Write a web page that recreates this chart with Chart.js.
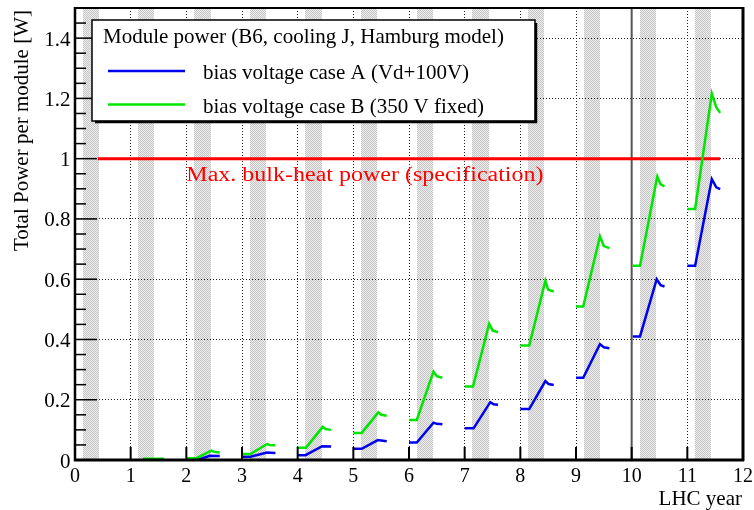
<!DOCTYPE html>
<html>
<head>
  <title>Module power vs LHC year</title>
  <script src="https://cdn.jsdelivr.net/npm/chart.js"></script>
  <style>
    body { margin: 0; background: #fff; }
    canvas { display: block; }
  </style>
</head>
<body>
  <canvas id="powerChart" width="754" height="510"></canvas>
  <script>
    // case A: bias voltage Vd+100V (null = gap between running years)
    const caseAYear  = [2.2, 2.42, 2.6, null,
                        3.0, 3.15, 3.45, 3.6, null,
                        4.0, 4.14, 4.44, 4.6, null,
                        5.0, 5.15, 5.44, 5.6, null,
                        6.0, 6.14, 6.44, 6.5, 6.6, null,
                        7.0, 7.16, 7.46, 7.52, 7.6, null,
                        8.0, 8.16, 8.45, 8.51, 8.6, null,
                        9.0, 9.13, 9.43, 9.5, 9.6, null,
                        10.02, 10.15, 10.45, 10.52, 10.59, null,
                        11.0, 11.14, 11.44, 11.52, 11.59];
    const caseAPower = [0.0, 0.014, 0.013, null,
                        0.011, 0.011, 0.025, 0.023, null,
                        0.016, 0.016, 0.046, 0.045, null,
                        0.037, 0.037, 0.066, 0.062, null,
                        0.058, 0.058, 0.124, 0.12, 0.119, null,
                        0.105, 0.105, 0.192, 0.185, 0.183, null,
                        0.169, 0.169, 0.262, 0.252, 0.249, null,
                        0.273, 0.273, 0.384, 0.374, 0.371, null,
                        0.41, 0.41, 0.6, 0.58, 0.576, null,
                        0.645, 0.645, 0.932, 0.905, 0.899];

    // case B: bias voltage 350 V fixed
    const caseBYear  = [1.22, 1.6, null,
                        2.0, 2.18, 2.45, 2.5, 2.6, null,
                        3.0, 3.15, 3.45, 3.5, 3.6, null,
                        4.0, 4.15, 4.45, 4.5, 4.6, null,
                        5.0, 5.15, 5.45, 5.5, 5.6, null,
                        6.0, 6.14, 6.44, 6.5, 6.6, null,
                        7.0, 7.15, 7.44, 7.5, 7.6, null,
                        8.0, 8.16, 8.45, 8.5, 8.6, null,
                        9.0, 9.13, 9.43, 9.5, 9.6, null,
                        10.02, 10.15, 10.46, 10.52, 10.59, null,
                        11.0, 11.14, 11.44, 11.52, 11.59];
    const caseBPower = [0.004, 0.004, null,
                        0.006, 0.006, 0.031, 0.027, 0.025, null,
                        0.02, 0.02, 0.053, 0.05, 0.049, null,
                        0.041, 0.041, 0.11, 0.103, 0.1, null,
                        0.09, 0.09, 0.158, 0.15, 0.147, null,
                        0.133, 0.133, 0.293, 0.278, 0.273, null,
                        0.244, 0.244, 0.452, 0.43, 0.424, null,
                        0.38, 0.38, 0.595, 0.565, 0.559, null,
                        0.509, 0.509, 0.742, 0.71, 0.703, null,
                        0.645, 0.645, 0.941, 0.915, 0.908, null,
                        0.833, 0.833, 1.216, 1.17, 1.152];

    // specification limit
    const specYear  = [0.41, 11.59];
    const specPower = [1.0, 1.0];
    const specText  = 'Max. bulk-heat power (specification)';

    // running periods (stippled bands)
    const runStart = [0.14, 1.13, 2.13, 3.15, 4.14, 5.14, 6.14, 7.14, 8.14, 9.14, 10.15, 11.14];
    const runEnd   = [0.43, 1.42, 2.44, 3.44, 4.43, 5.43, 6.43, 7.43, 8.43, 9.43, 10.43, 11.42];

    const xTickValues = [0, 1, 2, 3, 4, 5, 6, 7, 8, 9, 10, 11, 12];
    const xTickLabels = ['0', '1', '2', '3', '4', '5', '6', '7', '8', '9', '10', '11', '12'];
    const yTickValues = [0, 0.2, 0.4, 0.6, 0.8, 1.0, 1.2, 1.4];
    const yTickLabels = ['0', '0.2', '0.4', '0.6', '0.8', '1', '1.2', '1.4'];

    const legendTitle = 'Module power (B6, cooling J, Hamburg model)';
    const legendLabels = ['bias voltage case A (Vd+100V)', 'bias voltage case B (350 V fixed)'];

    const BLUE = '#0000ee';
    const GREEN = '#00e600';
    const RED = '#ff0000';
    const SERIF = '"Liberation Serif", "DejaVu Serif", serif';

    function toPoints(xs, ys) {
      return xs.map((x, i) => ({ x: x, y: ys[i] }));
    }

    function text(ctx, str, x, y, size, align, sx, color) {
      ctx.save();
      ctx.translate(x, y);
      ctx.scale(sx || 1, 1);
      ctx.font = size + 'px ' + SERIF;
      ctx.textAlign = align;
      ctx.textBaseline = 'alphabetic';
      ctx.fillStyle = color || '#000';
      ctx.fillText(str, 0, 0);
      ctx.restore();
    }

    function line(ctx, x1, y1, x2, y2, w, color) {
      ctx.beginPath();
      ctx.lineWidth = w;
      ctx.strokeStyle = color;
      ctx.moveTo(x1, y1);
      ctx.lineTo(x2, y2);
      ctx.stroke();
    }

    // fine checker stipple for the running periods
    function makeStipple(ctx) {
      const pc = document.createElement('canvas');
      pc.width = 2;
      pc.height = 2;
      const p = pc.getContext('2d');
      p.fillStyle = '#eeeeee';
      p.fillRect(0, 0, 2, 2);
      p.fillStyle = '#c4c4c4';
      p.fillRect(0, 0, 1, 1);
      p.fillRect(1, 1, 1, 1);
      return ctx.createPattern(pc, 'repeat');
    }

    const rootStyle = {
      id: 'rootStyle',
      beforeDraw(chart) {
        const ctx = chart.ctx;
        const xs = chart.scales.x, ys = chart.scales.y;
        ctx.save();
        ctx.fillStyle = '#fff';
        ctx.fillRect(0, 0, chart.width, chart.height);
        ctx.fillStyle = makeStipple(ctx);
        const top = Math.round(ys.getPixelForValue(1.5)), bottom = Math.round(ys.getPixelForValue(0));
        for (let i = 0; i < runStart.length; i++) {
          const a = Math.round(xs.getPixelForValue(runStart[i]));
          const b = Math.round(xs.getPixelForValue(runEnd[i]));
          ctx.fillRect(a, top, b - a, bottom - top);
        }
        ctx.restore();
      },
      beforeDatasetsDraw(chart) {
        const ctx = chart.ctx;
        const xs = chart.scales.x, ys = chart.scales.y;
        ctx.save();
        const x10 = xs.getPixelForValue(10);
        line(ctx, x10, ys.getPixelForValue(1.5), x10, ys.getPixelForValue(0), 2, '#555');
        ctx.restore();
      },
      afterDraw(chart) {
        const ctx = chart.ctx;
        const xs = chart.scales.x, ys = chart.scales.y;
        const area = chart.chartArea;
        ctx.save();

        // frame
        line(ctx, area.left, area.top, area.right, area.top, 2, '#000');
        line(ctx, area.right, area.top - 1, area.right, area.bottom + 1, 3, '#000');
        line(ctx, area.left, area.top - 1, area.left, area.bottom + 1, 2.5, '#000');
        line(ctx, area.left - 1, area.bottom, area.right + 1, area.bottom, 3, '#000');

        // y ticks, inside the frame
        for (let i = 1; i < 30; i++) {
          const y = ys.getPixelForValue(i * 0.05);
          const len = i % 4 === 0 ? 22 : 11;
          line(ctx, area.left, y, area.left + len, y, 1.5, '#000');
        }
        yTickValues.forEach((v, i) => {
          text(ctx, yTickLabels[i], area.left - 4.5, ys.getPixelForValue(v) + 7.5, 21, 'right', 1, '#000');
        });

        // x ticks
        xTickValues.forEach((v, i) => {
          const x = xs.getPixelForValue(v);
          if (v > 0 && v < 12) line(ctx, x, area.bottom, x, area.bottom - 13, 2, '#000');
          text(ctx, xTickLabels[i], x, area.bottom + 22, 20, 'center', 1, '#000');
        });

        // axis titles
        text(ctx, 'LHC year', 742, 505, 21, 'right', 1, '#000');
        ctx.save();
        ctx.translate(27.5, 10);
        ctx.rotate(-Math.PI / 2);
        text(ctx, 'Total Power per module [W]', 0, 0, 21, 'right', 1, '#000');
        ctx.restore();

        // specification label
        text(ctx, specText, xs.getPixelForValue(2.0), ys.getPixelForValue(0.927), 20, 'left', 1.2, RED);

        // legend box with shadow
        const lx = 92, ly = 20, lw = 443, lh = 101;
        ctx.fillStyle = '#fff';
        ctx.fillRect(lx, ly, lw, lh);
        ctx.lineWidth = 1.5;
        ctx.strokeStyle = '#000';
        ctx.strokeRect(lx, ly, lw, lh);
        line(ctx, lx + lw + 1, ly + 3, lx + lw + 1, ly + lh + 2, 2.5, '#000');
        line(ctx, lx + 3, ly + lh + 1, lx + lw + 2, ly + lh + 1, 2.5, '#000');
        text(ctx, legendTitle, 103, 43, 21, 'left', 1, '#000');
        line(ctx, 108, 71, 185, 71, 2.5, BLUE);
        text(ctx, legendLabels[0], 203, 78.5, 21, 'left', 1, '#000');
        line(ctx, 108, 104.5, 185, 104.5, 2.5, GREEN);
        text(ctx, legendLabels[1], 203, 112.5, 21, 'left', 1, '#000');

        ctx.restore();
      }
    };

    new Chart(document.getElementById('powerChart'), {
      type: 'line',
      data: {
        datasets: [
          {
            label: legendLabels[1],
            data: toPoints(caseBYear, caseBPower),
            borderColor: GREEN,
            borderWidth: 2.5
          },
          {
            label: legendLabels[0],
            data: toPoints(caseAYear, caseAPower),
            borderColor: BLUE,
            borderWidth: 2.5
          },
          {
            label: 'specification',
            data: toPoints(specYear, specPower),
            borderColor: RED,
            borderWidth: 3
          }
        ]
      },
      options: {
        responsive: false,
        animation: false,
        spanGaps: false,
        layout: { padding: { left: 0, right: 11, top: 8, bottom: 0 } },
        elements: {
          point: { radius: 0, hoverRadius: 0 },
          line: { tension: 0, fill: false, borderCapStyle: 'butt', borderJoinStyle: 'miter' }
        },
        plugins: {
          legend: { display: false },
          tooltip: { enabled: false }
        },
        scales: {
          x: {
            type: 'linear',
            min: 0,
            max: 12,
            afterBuildTicks: (s) => { s.ticks = xTickValues.map(v => ({ value: v })); },
            afterFit: (s) => { s.height = 50; },
            ticks: { display: false },
            grid: { color: '#222', lineWidth: 1, drawTicks: false },
            border: { display: false, dash: [1, 2] }
          },
          y: {
            type: 'linear',
            min: 0,
            max: 1.5,
            afterBuildTicks: (s) => { s.ticks = yTickValues.map(v => ({ value: v })); },
            afterFit: (s) => { s.width = 75; },
            ticks: { display: false },
            grid: { color: '#222', lineWidth: 1, drawTicks: false },
            border: { display: false, dash: [1, 2] }
          }
        }
      },
      plugins: [rootStyle]
    });
  </script>
</body>
</html>
